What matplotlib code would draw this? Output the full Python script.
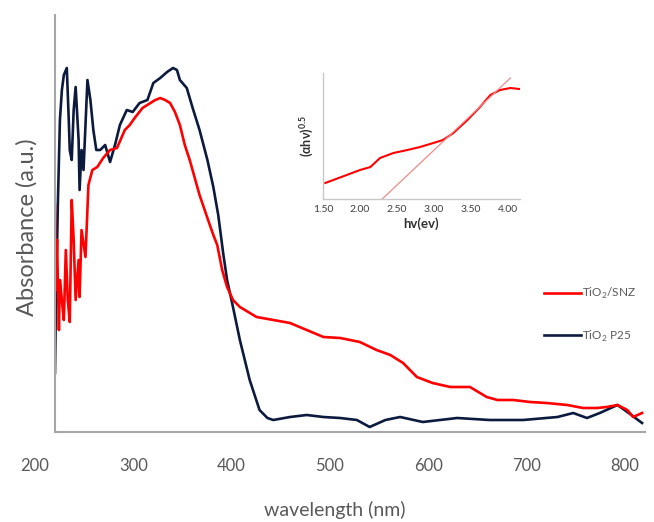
import matplotlib
matplotlib.use("Agg")
import matplotlib.pyplot as plt
from matplotlib.transforms import ScaledTranslation

plt.rcParams['font.family'] = ['Lato', 'DejaVu Sans']
plt.rcParams['mathtext.fontset'] = 'custom'
plt.rcParams['mathtext.rm'] = 'Lato'
plt.rcParams['mathtext.bf'] = 'Lato:bold'

# main spectra (wavelength in nm, absorbance in a.u.)
p25_nm = [200, 201, 203, 205, 207, 209, 212, 214, 215, 217, 219, 221, 224, 225, 227, 229,
          233, 236, 239, 242, 246, 251, 256, 261, 266, 273, 279, 286, 294, 300, 307, 314,
          320, 324, 327, 334, 340, 347, 355, 361, 366, 371, 375, 381, 388, 398, 408, 416,
          422, 439, 456, 473, 490, 507, 520, 536, 551, 574, 609, 642, 676, 711, 727, 741,
          754, 772, 782, 797]
p25_abs = [0.59, 1.32, 2.32, 3.12, 3.42, 3.57, 3.64, 3.12, 2.82, 2.72, 3.22, 3.45, 2.92, 2.42, 2.82, 2.62,
           3.52, 3.32, 3.02, 2.82, 2.82, 2.87, 2.70, 2.87, 3.07, 3.22, 3.20, 3.29, 3.32, 3.49, 3.54, 3.60,
           3.64, 3.62, 3.52, 3.44, 3.24, 3.02, 2.72, 2.45, 2.17, 1.79, 1.52, 1.25, 0.92, 0.52, 0.22, 0.14,
           0.12, 0.15, 0.17, 0.15, 0.14, 0.12, 0.05, 0.12, 0.15, 0.10, 0.14, 0.12, 0.12, 0.15, 0.19, 0.14,
           0.19, 0.27, 0.20, 0.09]

snz_nm = [200, 201, 202, 204, 205, 207, 209, 211, 213, 215, 217, 219, 221, 224, 225, 227,
          231, 234, 238, 243, 249, 256, 263, 271, 276, 281, 289, 297, 302, 307, 312, 317,
          322, 327, 332, 337, 347, 355, 361, 365, 370, 375, 381, 388, 405, 422, 439, 456,
          473, 490, 510, 527, 541, 554, 568, 584, 602, 622, 639, 650, 666, 683, 700, 721,
          737, 751, 761, 772, 782, 788, 797]
snz_abs = [2.27, 1.42, 1.92, 1.02, 1.52, 1.32, 1.12, 1.82, 1.32, 1.10, 2.32, 1.92, 1.32, 1.72, 1.35, 2.02,
           1.75, 2.47, 2.62, 2.65, 2.74, 2.82, 2.84, 3.02, 3.07, 3.14, 3.24, 3.29, 3.32, 3.34, 3.32, 3.29,
           3.20, 3.07, 2.87, 2.72, 2.37, 2.14, 1.97, 1.87, 1.62, 1.45, 1.32, 1.25, 1.15, 1.12, 1.09, 1.02,
           0.95, 0.94, 0.90, 0.82, 0.77, 0.69, 0.55, 0.49, 0.45, 0.45, 0.35, 0.32, 0.32, 0.30, 0.29, 0.27,
           0.24, 0.24, 0.25, 0.27, 0.22, 0.15, 0.19]

# Tauc plot inset
tauc_ev = [1.53, 1.82, 2.00, 2.14, 2.27, 2.45, 2.64, 2.81, 2.99, 3.12, 3.26, 3.45, 3.62, 3.76, 3.89, 4.03, 4.15]
tauc_val = [1.6, 2.4, 2.9, 3.2, 4.1, 4.6, 4.9, 5.2, 5.6, 5.9, 6.6, 7.9, 9.2, 10.4, 10.9, 11.1, 11.0]
fit_ev = [2.30, 4.03]
fit_val = [0.0, 12.1]

x_ticks = [200, 300, 400, 500, 600, 700, 800]
inset_ticks = [1.5, 2.0, 2.5, 3.0, 3.5, 4.0]

red = '#ff0000'
navy = '#0c1b3d'
gray_txt = '#595959'
gray_axis = '#a6a6a6'

fig = plt.figure(figsize=(6.54, 5.22), dpi=100)
ax = fig.add_axes([55/654, 90/522, 590/654, 417/522])

l_blue, = ax.plot(p25_nm, p25_abs, color=navy, lw=1.9, label='TiO$_2$ P25')
l_red, = ax.plot(snz_nm, snz_abs, color=red, lw=1.9, label='TiO$_2$/SNZ')

ax.set_xlim(200, 800)
ax.set_ylim(0, 4.17)
ax.set_yticks([])
ax.set_xticks(x_ticks)
ax.tick_params(axis='x', length=0, pad=19, labelsize=12, labelcolor=gray_txt)
for s in ['top', 'right']:
    ax.spines[s].set_visible(False)
for s in ['left', 'bottom']:
    ax.spines[s].set_color(gray_axis)
    ax.spines[s].set_linewidth(1.5)

# tick labels sit a little left of their positions in the original
shift = ScaledTranslation(-0.2, 0, fig.dpi_scale_trans)
for lab in ax.get_xticklabels():
    lab.set_transform(lab.get_transform() + shift)

ax.set_xlabel('wavelength (nm)', fontsize=14, color=gray_txt)
ax.xaxis.set_label_coords(0.475, -0.165)
ax.set_ylabel('Absorbance (a.u.)', fontsize=17, color=gray_txt)
ax.yaxis.set_label_coords(-0.03, 0.49)

ax.legend(handles=[l_red, l_blue], loc='upper left', bbox_to_anchor=(0.81, 0.375),
          frameon=False, fontsize=8.5, handlelength=3.2, handletextpad=0.1,
          labelspacing=2.3, labelcolor=gray_txt)

# inset
ins = fig.add_axes([323/654, 323/522, 197/654, 126/522])
ins.plot(tauc_ev, tauc_val, color=red, lw=1.5)
ins.plot(fit_ev, fit_val, color='#f08a8a', lw=0.9)
ins.set_xlim(1.5, 4.16)
ins.set_ylim(0, 12.6)
ins.set_yticks([])
ins.set_xticks(inset_ticks)
ins.set_xticklabels(['%.2f' % t for t in inset_ticks])
ins.tick_params(axis='x', length=0, pad=4, labelsize=7.5, labelcolor='#404040')
for s in ['top', 'right']:
    ins.spines[s].set_visible(False)
for s in ['left', 'bottom']:
    ins.spines[s].set_color('#c8c8c8')
    ins.spines[s].set_linewidth(1.0)
ins.set_xlabel('hv(ev)', fontsize=9.5, fontweight='bold', color='#303030', labelpad=3)
ins.set_ylabel(r'(αhν)$^{\mathbf{0.5}}$', fontsize=9, fontweight='bold', color='#303030', labelpad=5)

fig.savefig('out.png', dpi=100)
